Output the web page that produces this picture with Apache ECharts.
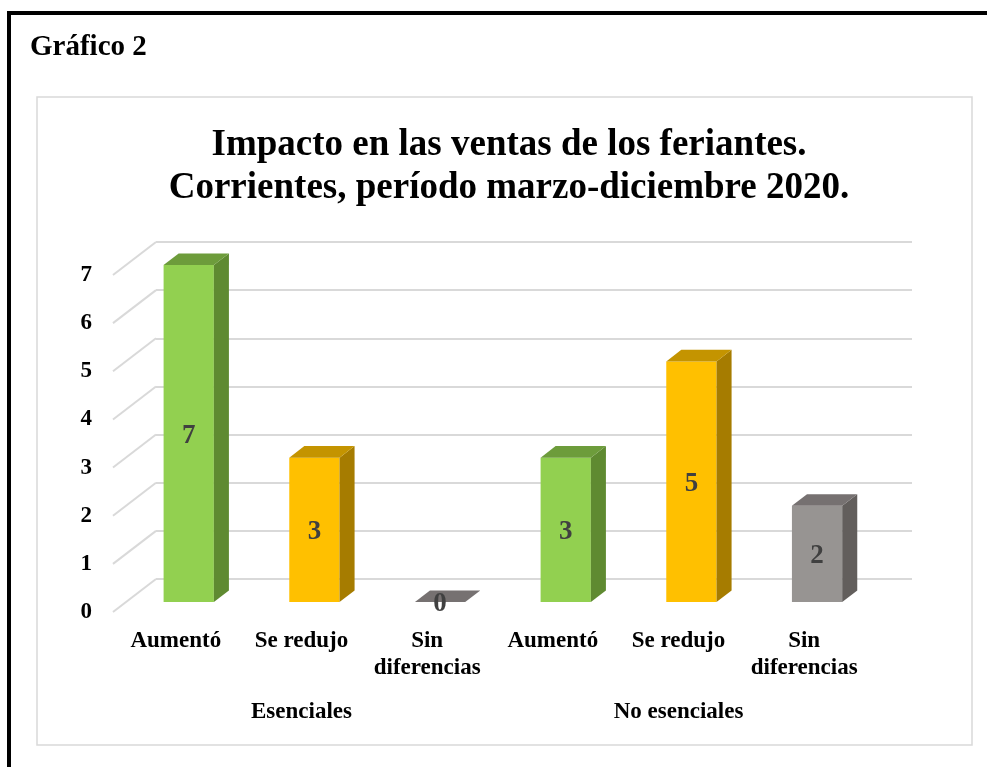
<!DOCTYPE html>
<html>
<head>
<meta charset="utf-8">
<script src="https://cdn.jsdelivr.net/npm/echarts@6/dist/echarts.min.js"></script>
<style>
  html, body { margin: 0; padding: 0; background: #fff; }
  #chart { width: 987px; height: 767px; }
</style>
</head>
<body>
<div id="chart"></div>
<script>
// datos
const categories = ['Aumentó', 'Se redujo', 'Sin\ndiferencias', 'Aumentó', 'Se redujo', 'Sin\ndiferencias']
const groups = ['Esenciales', 'No esenciales']
const values = [7, 3, 0, 3, 5, 2]
const kinds = [0, 1, 2, 0, 1, 2] // 0 aumentó, 1 se redujo, 2 sin diferencias
const yTicks = [0, 1, 2, 3, 4, 5, 6, 7]

// colores por tipo: frente, lado, techo
const palette = [
  { front: '#92d050', side: '#5f8a31', top: '#6d9c3b' },
  { front: '#ffc000', side: '#a67c00', top: '#c49400' },
  { front: '#979492', side: '#625e5c', top: '#767171' }
]

// vector de profundidad (perspectiva)
const DX = 43
const DY = -33
const D0 = 0.3
const D1 = 0.65

const FONT = '"Liberation Serif", "Times New Roman", serif'

const chart = echarts.init(document.getElementById('chart'))

const option = {
  backgroundColor: '#fff',
  animation: false,
  title: {
    text: 'Impacto en las ventas de los feriantes.\nCorrientes, período marzo-diciembre 2020.',
    left: 504,
    textAlign: 'center',
    top: 119,
    textStyle: {
      fontFamily: FONT,
      fontWeight: 'bold',
      fontSize: 37,
      lineHeight: 43,
      color: '#000'
    }
  },
  graphic: [
    {
      type: 'rect',
      shape: { x: 9, y: 13, width: 1100, height: 900 },
      style: { fill: 'none', stroke: '#000', lineWidth: 4 },
      silent: true
    },
    {
      type: 'rect',
      shape: { x: 37, y: 97, width: 935, height: 648 },
      style: { fill: 'none', stroke: '#d9d9d9', lineWidth: 1.5 },
      silent: true
    },
    {
      type: 'text',
      left: 30,
      top: 33,
      style: {
        text: 'Gráfico 2',
        font: 'bold 29px ' + FONT,
        fill: '#000'
      }
    }
  ],
  grid: [
    // pared del fondo
    { left: 156, right: 75, top: 242, bottom: 188 },
    // plano frontal
    { left: 113, right: 120, top: 275, bottom: 155 }
  ],
  xAxis: [
    { type: 'value', gridIndex: 0, show: false, min: 0, max: 1 },
    {
      type: 'category',
      gridIndex: 1,
      data: categories,
      axisLine: { show: false },
      axisTick: { show: false },
      axisLabel: {
        interval: 0,
        margin: 16,
        fontFamily: FONT,
        fontWeight: 'bold',
        fontSize: 23,
        lineHeight: 27,
        color: '#000'
      }
    },
    {
      type: 'category',
      gridIndex: 1,
      position: 'bottom',
      data: groups,
      axisLine: { show: false },
      axisTick: { show: false },
      axisLabel: {
        interval: 0,
        margin: 89,
        fontFamily: FONT,
        fontWeight: 'bold',
        fontSize: 23,
        color: '#000'
      }
    }
  ],
  yAxis: [
    {
      type: 'value',
      gridIndex: 0,
      min: 0,
      max: 7,
      interval: 1,
      axisLine: { show: false },
      axisTick: { show: false },
      axisLabel: { show: false },
      splitLine: { lineStyle: { color: '#d9d9d9', width: 2 } }
    },
    {
      type: 'value',
      gridIndex: 1,
      min: 0,
      max: 7,
      interval: 1,
      axisLine: { show: false },
      axisTick: { show: false },
      splitLine: { show: false },
      axisLabel: {
        margin: 21,
        fontFamily: FONT,
        fontWeight: 'bold',
        fontSize: 23,
        color: '#000'
      }
    }
  ],
  series: [
    {
      // líneas diagonales del piso lateral
      type: 'custom',
      xAxisIndex: 1,
      yAxisIndex: 1,
      silent: true,
      data: yTicks.map(v => [0, v]),
      renderItem: (params, api) => {
        const band = api.size([1, 0])[0]
        const p = api.coord([0, api.value(1)])
        const x = p[0] - band / 2
        return {
          type: 'line',
          shape: { x1: x, y1: p[1], x2: x + DX, y2: p[1] + DY },
          style: { stroke: '#d9d9d9', lineWidth: 2 }
        }
      }
    },
    {
      type: 'custom',
      xAxisIndex: 1,
      yAxisIndex: 1,
      data: values.map((v, i) => [i, v, kinds[i]]),
      renderItem: (params, api) => {
        const idx = api.value(0)
        const val = api.value(1)
        const c = palette[api.value(2)]
        const band = api.size([1, 0])[0]
        const w = band * 0.4
        const base = api.coord([idx, 0])
        const topP = api.coord([idx, val])
        const x0 = base[0] - w / 2 + D0 * DX
        const yb = base[1] + D0 * DY
        const yt = topP[1] + D0 * DY
        const ddx = (D1 - D0) * DX
        const ddy = (D1 - D0) * DY
        const children = []
        if (val > 0) {
          children.push({
            type: 'rect',
            shape: { x: x0, y: yt, width: w, height: yb - yt },
            style: { fill: c.front }
          })
          children.push({
            type: 'polygon',
            shape: { points: [[x0 + w, yt], [x0 + w + ddx, yt + ddy], [x0 + w + ddx, yb + ddy], [x0 + w, yb]] },
            style: { fill: c.side }
          })
        }
        children.push({
          type: 'polygon',
          shape: { points: [[x0, yt], [x0 + ddx, yt + ddy], [x0 + w + ddx, yt + ddy], [x0 + w, yt]] },
          style: { fill: c.top }
        })
        children.push({
          type: 'text',
          z2: 10,
          style: {
            text: String(val),
            x: x0 + w / 2,
            y: val > 0 ? (yt + yb) / 2 + 2 : yb + 2,
            align: 'center',
            verticalAlign: 'middle',
            font: 'bold 27px ' + FONT,
            fill: '#404040'
          }
        })
        return { type: 'group', children }
      }
    }
  ]
}

chart.setOption(option)
</script>
</body>
</html>
